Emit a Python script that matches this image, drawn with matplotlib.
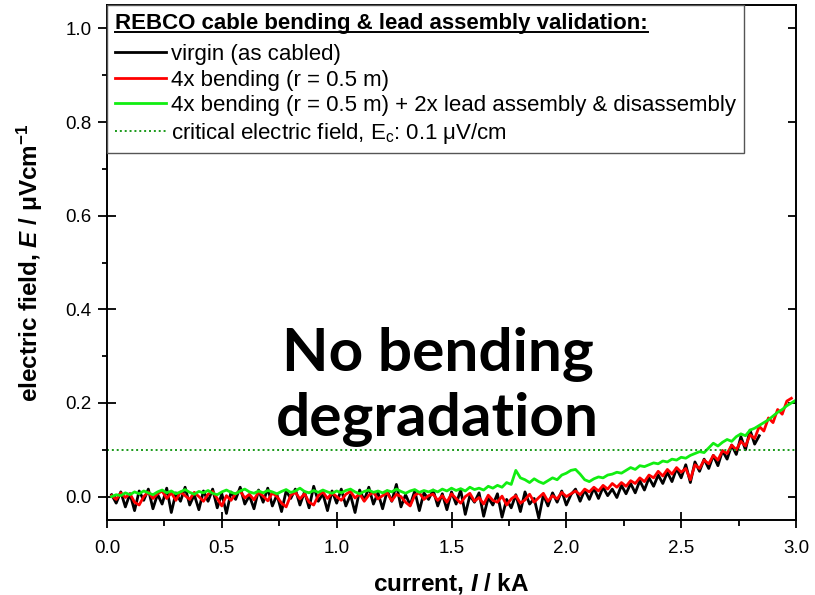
import numpy as np
import matplotlib
matplotlib.use("Agg")
import matplotlib.pyplot as plt
from matplotlib.lines import Line2D

# ---------------- data ----------------
I_step = 0.02
virgin_E = [
    0.004, -0.014, 0.010, -0.022, 0.006, -0.030, 0.012, -0.008, 0.016, -0.026,
    0.005, -0.016, 0.018, -0.034, 0.008, -0.010, 0.020, -0.018, 0.004, -0.028,
    0.012, -0.010, 0.016, -0.024, 0.006, -0.036, 0.010, -0.006, 0.020, -0.016,
    0.002, -0.026, 0.014, -0.012, 0.018, -0.020, 0.004, -0.032, 0.012, -0.004,
    0.016, -0.018, 0.010, -0.024, 0.022, -0.010, 0.006, -0.030, 0.012, -0.014,
    0.016, -0.020, 0.004, -0.034, 0.014, -0.008, 0.020, -0.016, 0.008, -0.026,
    0.012, -0.010, 0.026, -0.022, 0.004, -0.018, 0.012, -0.030, 0.008, -0.006,
    0.014, -0.020, 0.006, -0.028, 0.010, -0.016, 0.014, -0.038, 0.002, -0.012,
    0.008, -0.042, -0.002, -0.018, 0.006, -0.044, -0.006, -0.024, 0.004, -0.032,
    0.010, -0.016, -0.004, -0.046, 0.004, -0.020, 0.008, -0.012, 0.012, -0.018,
    0.004, 0.016, -0.010, 0.014, -0.006, 0.018, -0.004, 0.020, 0.002, 0.016,
    -0.002, 0.024, 0.006, 0.028, 0.008, 0.034, 0.014, 0.040, 0.022, 0.046,
    0.028, 0.052, 0.032, 0.060, 0.040, 0.068, 0.030, 0.074, 0.054, 0.080,
    0.060, 0.088, 0.066, 0.098, 0.080, 0.110, 0.090, 0.128, 0.100, 0.142,
    0.112, 0.130,
]
bent_E = [
    0.002, -0.006, 0.008, -0.002, 0.006, -0.012, -0.018, 0.000, 0.010, -0.004,
    0.006, 0.012, -0.004, 0.008, -0.008, 0.010, 0.002, -0.006, 0.009, 0.000,
    -0.010, 0.005, 0.011, -0.004, -0.020, 0.002, -0.008, 0.006, 0.012, -0.003,
    0.005, -0.007, 0.010, 0.001, -0.009, 0.008, 0.000, -0.014, -0.022, 0.003,
    0.009, -0.005, 0.006, -0.012, -0.018, 0.002, 0.010, -0.004, 0.008, 0.000,
    -0.008, 0.005, 0.011, -0.003, 0.006, -0.010, 0.003, 0.009, -0.005, 0.002,
    0.008, -0.009, 0.005, 0.000, -0.012, -0.020, 0.003, 0.008, -0.006, 0.002,
    0.005, -0.008, 0.002, -0.012, 0.006, -0.004, -0.014, 0.000, 0.007, -0.010,
    -0.002, -0.016, 0.003, -0.008, -0.012, 0.001, -0.018, -0.005, 0.002, -0.014,
    -0.007, 0.005, -0.012, -0.002, 0.007, -0.010, 0.002, -0.005, 0.009, 0.000,
    0.006, 0.012, 0.004, 0.016, 0.010, 0.020, 0.012, 0.024, 0.016, 0.028,
    0.020, 0.030, 0.022, 0.034, 0.028, 0.040, 0.032, 0.046, 0.040, 0.054,
    0.044, 0.058, 0.048, 0.062, 0.052, 0.060, 0.036, 0.068, 0.060, 0.078,
    0.070, 0.088, 0.078, 0.098, 0.092, 0.110, 0.100, 0.118, 0.108, 0.132,
    0.124, 0.150, 0.140, 0.168, 0.158, 0.186, 0.176, 0.204, 0.210,
]
lead_E = [
    0.000, 0.004, 0.002, 0.008, 0.004, 0.010, 0.006, 0.012, 0.008, 0.004,
    0.010, 0.014, 0.008, 0.012, 0.006, 0.010, 0.015, 0.009, 0.005, 0.011,
    0.008, 0.013, 0.007, 0.004, 0.010, 0.014, 0.009, 0.006, 0.012, 0.016,
    0.010, 0.007, 0.012, 0.008, 0.013, 0.010, 0.006, 0.011, 0.015, 0.009,
    0.012, 0.018, 0.011, 0.008, 0.013, 0.009, 0.014, 0.010, 0.007, 0.012,
    0.008, 0.013, 0.016, 0.010, 0.006, 0.011, 0.014, 0.009, 0.012, 0.008,
    0.013, 0.010, 0.016, 0.011, 0.007, 0.012, 0.015, 0.009, 0.013, 0.010,
    0.014, 0.010, 0.016, 0.012, 0.018, 0.013, 0.017, 0.012, 0.020, 0.015,
    0.018, 0.014, 0.022, 0.018, 0.024, 0.020, 0.030, 0.026, 0.056, 0.040,
    0.036, 0.030, 0.038, 0.032, 0.028, 0.034, 0.040, 0.036, 0.046, 0.050,
    0.056, 0.058, 0.048, 0.036, 0.032, 0.038, 0.042, 0.040, 0.046, 0.048,
    0.052, 0.050, 0.056, 0.062, 0.058, 0.066, 0.064, 0.068, 0.072, 0.070,
    0.076, 0.074, 0.080, 0.078, 0.084, 0.082, 0.088, 0.092, 0.096, 0.094,
    0.104, 0.114, 0.108, 0.116, 0.122, 0.118, 0.128, 0.134, 0.130, 0.142,
    0.146, 0.152, 0.158, 0.164, 0.172, 0.180, 0.186, 0.194, 0.200, 0.206,
]
Ec = 0.1

labels = ["virgin (as cabled)",
          "4x bending (r = 0.5 m)",
          "4x bending (r = 0.5 m) + 2x lead assembly & disassembly",
          "critical electric field, E$_\\mathregular{c}$: 0.1 \u03bcV/cm"]
legend_title = "REBCO cable bending & lead assembly validation:"
note_lines = ["No bending", "degradation"]

def currents(n):
    return I_step * (np.arange(n) + 1)

# ---------------- figure ----------------
plt.rcParams['font.family'] = ['Liberation Sans', 'DejaVu Sans']
plt.rcParams['mathtext.fontset'] = 'custom'
plt.rcParams['mathtext.rm'] = 'Liberation Sans'
plt.rcParams['mathtext.it'] = 'Liberation Sans:italic:bold'
plt.rcParams['mathtext.bf'] = 'Liberation Sans:bold'

fig = plt.figure(figsize=(8.15, 5.95), dpi=100)
ax = fig.add_axes([107/815, 75/595, (796-107)/815, (520-5)/595])

lw = 2.0
l1, = ax.plot(currents(len(virgin_E)), virgin_E, color='black', lw=lw)
l2, = ax.plot(currents(len(bent_E)), bent_E, color='#ff0000', lw=lw)
l3, = ax.plot(currents(len(lead_E)), lead_E, color='#11ee11', lw=lw)
l4 = ax.axhline(Ec, color='#1a9a1a', lw=1.4, ls=(0, (1, 1.5)))

ax.set_xlim(0, 3.0)
ax.set_ylim(-0.05, 1.05)
ax.set_xticks(np.arange(0, 3.01, 0.5))
ax.set_xticks(np.arange(0, 3.01, 0.25), minor=True)
ax.set_yticks(np.arange(0, 1.01, 0.2))
ax.set_yticks(np.arange(0, 1.01, 0.1), minor=True)
ax.xaxis.set_major_formatter(matplotlib.ticker.FormatStrFormatter('%.1f'))
ax.yaxis.set_major_formatter(matplotlib.ticker.FormatStrFormatter('%.1f'))
ax.tick_params(axis='x', which='major', direction='inout', length=11.5, width=1.3,
               labelsize=13.5, pad=8.5)
ax.tick_params(axis='x', which='minor', direction='out', length=4, width=1.3)
ax.tick_params(axis='y', which='major', direction='inout', length=13, width=1.3,
               labelsize=13.5, pad=4.5)
ax.tick_params(axis='y', which='minor', direction='out', length=3.5, width=1.3)
ax.yaxis.set_tick_params(which='major', right=True)
for t in ax.yaxis.get_major_ticks():
    t.tick2line.set_marker(matplotlib.lines.TICKLEFT)
    t.tick2line.set_markersize(6)
for s in ax.spines.values():
    s.set_linewidth(1.4)

ax.set_xlabel("current, $\\mathit{I}$ / kA", fontsize=17.5, fontweight='bold')
ax.xaxis.set_label_coords(0.5, -0.100)
ax.set_ylabel("electric field, $\\mathit{E}$ / \u03bcVcm$^\\mathregular{-1}$",
              fontsize=17.5, fontweight='bold')
ax.yaxis.set_label_coords(-0.090, 0.5)

leg = ax.legend([l1, l2, l3, l4], labels, title=legend_title, loc='upper left',
                bbox_to_anchor=(0, 1), borderaxespad=0, fontsize=16,
                title_fontproperties={'weight': 'bold', 'size': 16},
                alignment='left', fancybox=False, framealpha=1, edgecolor='#555555',
                handlelength=2.3, handletextpad=0.24, labelspacing=0.2,
                borderpad=0.35)
leg.get_frame().set_linewidth(1.0)
leg._legend_box.sep = 7.5

ax.text(1.44, 0.268, note_lines[0], fontsize=43.5, fontweight='bold', family='Lato',
        ha='center', va='baseline')
ax.text(1.44, 0.129, note_lines[1], fontsize=43.5, fontweight='bold', family='Lato',
        ha='center', va='baseline')

fig.canvas.draw()
r = fig.canvas.get_renderer()
tb = leg.get_title().get_window_extent(r)
inv = fig.transFigure.inverted()
(x0, y0), (x1, y1) = inv.transform([(tb.x0, tb.y0 + 2), (tb.x1, tb.y0 + 2)])
fig.add_artist(Line2D([x0, x1], [y0, y1], color='black', lw=1.4, transform=fig.transFigure))

fig.savefig("out.png", dpi=100)
